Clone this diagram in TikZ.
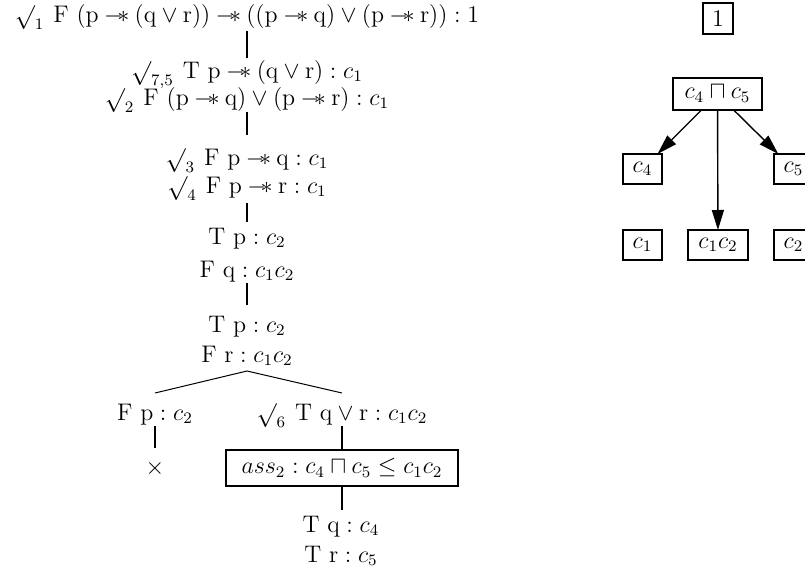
\documentclass[tikz,border=0pt,12pt]{standalone}
\usetikzlibrary{arrows.meta}
\newcommand{\wand}{\mathbin{-\mkern-4mu\ast}}
\newcommand{\chk}[1]{\raisebox{-1pt}{$\surd$}\raisebox{-3.5pt}{$\scriptstyle #1$}\hspace{5pt}}
\newcommand{\rmv}[1]{\mathrm{#1}}
\begin{document}
\begin{tikzpicture}[x=0.5pt,y=-0.5pt,
  every node/.style={inner sep=0pt,outer sep=0pt},
  lab/.style={anchor=base},
  conn/.style={line width=1.3pt},
  thinline/.style={line width=0.5pt},
  assbox/.style={draw,line width=1.1pt,minimum width=116pt,minimum height=18pt},
  cbox/.style={draw,line width=0.8pt,minimum height=15pt},
  arr/.style={line width=0.7pt,-{Triangle[length=10pt,width=6pt]}}]
\useasboundingbox (0,0) rectangle (805,574);
\clip (0,0) rectangle (805,574);
% left tableau
\node[lab] (n1) at (247,22) {\chk{1}$\rmv{F}\ (\rmv{p}\wand(\rmv{q}\vee\rmv{r}))\wand((\rmv{p}\wand\rmv{q})\vee(\rmv{p}\wand\rmv{r})):1$};
\node[lab] (n2) at (247,78) {\chk{7,5}$\rmv{T}\ \rmv{p}\wand(\rmv{q}\vee\rmv{r}):c_1$};
\node[lab] (n3) at (247,105) {\chk{2}$\rmv{F}\ (\rmv{p}\wand\rmv{q})\vee(\rmv{p}\wand\rmv{r}):c_1$};
\node[lab] (n4) at (247,165) {\chk{3}$\rmv{F}\ \rmv{p}\wand\rmv{q}:c_1$};
\node[lab] (n5) at (247,193) {\chk{4}$\rmv{F}\ \rmv{p}\wand\rmv{r}:c_1$};
\node[lab] (n6) at (247,244) {$\rmv{T}\ \rmv{p}:c_2$};
\node[lab] (n7) at (247,277) {$\rmv{F}\ \rmv{q}:c_1c_2$};
\node[lab] (n8) at (247,332) {$\rmv{T}\ \rmv{p}:c_2$};
\node[lab] (n9) at (247,362) {$\rmv{F}\ \rmv{r}:c_1c_2$};
\node[lab] (n10) at (155,420) {$\rmv{F}\ \rmv{p}:c_2$};
\node[lab] (n11) at (342,420) {\chk{6}$\rmv{T}\ \rmv{q}\vee\rmv{r}:c_1c_2$};
\node (cl) at (155,468) {$\times$};
\node[assbox] (ass) at (342,468) {$ass_2:c_4\sqcap c_5\leq c_1c_2$};
\node[lab] (n12) at (341,532) {$\rmv{T}\ \rmv{q}:c_4$};
\node[lab] (n13) at (341,562) {$\rmv{T}\ \rmv{r}:c_5$};
% connector end points
\coordinate (a1) at (247,31);  \coordinate (b1) at (247,58);
\coordinate (a2) at (247,112); \coordinate (b2) at (247,135);
\coordinate (a3) at (247,203); \coordinate (b3) at (247,222);
\coordinate (a4) at (247,283); \coordinate (b4) at (247,305);
\coordinate (ap) at (247,371);
\coordinate (bl) at (155,393); \coordinate (br) at (342,393);
\coordinate (a5) at (155,426); \coordinate (b5) at (155,448);
\coordinate (a6) at (342,426);
\coordinate (b7) at (342,510);
\draw[conn] (a1) -- (b1);
\draw[conn] (a2) -- (b2);
\draw[conn] (a3) -- (b3);
\draw[conn] (a4) -- (b4);
\draw[thinline] (bl) -- (ap) -- (br);
\draw[conn] (a5) -- (b5);
\draw[conn] (a6) -- (ass.north);
\draw[conn] (ass.south) -- (b7);
% right graph
\node[cbox,minimum width=15pt,minimum height=15.5pt] (one) at (718,18.5) {$1$};
\node[cbox,minimum width=44.5pt,minimum height=16pt] (top) at (717.5,94) {$c_4\sqcap c_5$};
\node[cbox,minimum width=19.5pt] (c4) at (642.5,169) {$c_4$};
\node[cbox,minimum width=19.5pt] (c5) at (793.5,169) {$c_5$};
\node[cbox,minimum width=19.5pt] (c1) at (642.5,245) {$c_1$};
\node[cbox,minimum width=30pt] (c12) at (718,245) {$c_1c_2$};
\node[cbox,minimum width=19.5pt] (c2) at (793.5,245) {$c_2$};
\draw[arr] (top) -- (c4);
\draw[arr] (top) -- (c12);
\draw[arr] (top) -- (c5);
\end{tikzpicture}
\end{document}
